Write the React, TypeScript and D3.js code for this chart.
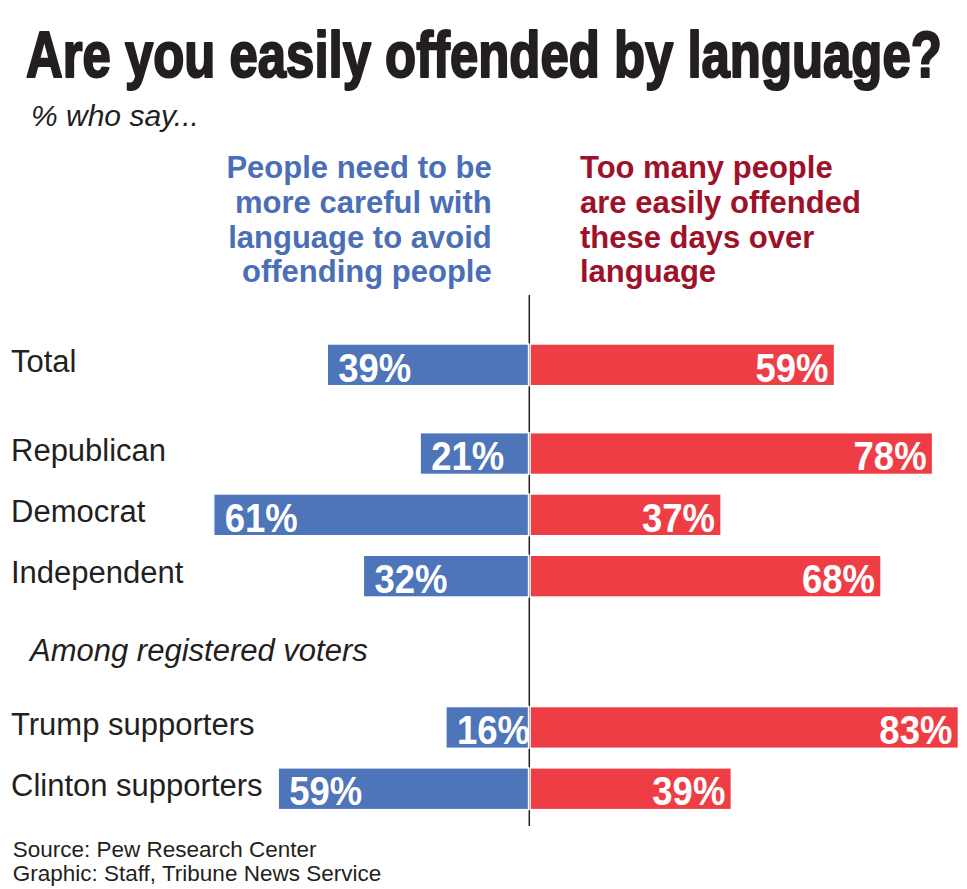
import React from "react";
import * as d3 from "d3";

// ---------- data ----------
const title = "Are you easily offended by language?";
const subtitle = "% who say...";
const categories = [
  "Total",
  "Republican",
  "Democrat",
  "Independent",
  "Trump supporters",
  "Clinton supporters",
];
const categoryGroups = [0, 1, 1, 1, 2, 2];
const groupNote = "Among registered voters";
// "People need to be more careful with language..." (labels)
const carefulValues = [39, 21, 61, 32, 16, 59];
// bar lengths as drawn in the source graphic (Clinton bar is drawn shorter than its label)
const carefulBarValues = [39, 21, 61, 32, 16, 48.5];
// "Too many people are easily offended..."
const offendedValues = [59, 78, 37, 68, 83, 39];
const carefulHeader = [
  "People need to be",
  "more careful with",
  "language to avoid",
  "offending people",
];
const offendedHeader = [
  "Too many people",
  "are easily offended",
  "these days over",
  "language",
];
const sourceLines = [
  "Source: Pew Research Center",
  "Graphic: Staff, Tribune News Service",
];

// ---------- style ----------
const W = 967;
const H = 889;
const FONT = "'Liberation Sans', Arial, Helvetica, sans-serif";
const INK = "#231F20";
const BLUE = "#4E74B9";
const RED = "#EF3D46";
const BLUE_TEXT = "#4A6FB7";
const RED_TEXT = "#9E1129";

export default function App() {
  const centerX = 529.3;
  const x = d3.scaleLinear().domain([0, 100]).range([0, 516]);
  const rowStep = 61.3;
  const groupExtra = [0, 27.4, 117.4];
  const rowIndex = d3.scaleLinear().domain([0, 1]).range([344, 344 + rowStep]);
  const barH = 41.7;
  const rowTop = (i: number) => rowIndex(i) + groupExtra[categoryGroups[i]];

  const headerY = d3.scaleLinear().domain([0, 1]).range([178.3, 212.9]);
  const blueRight = centerX - 0.8;
  const redLeft = centerX + 0.8;
  const valScale = 0.89;
  const titleScale = 0.795;

  return (
    <svg
      width={W}
      height={H}
      style={{ position: "absolute", left: 0, top: 0, background: "#fff" }}
      fontFamily={FONT}
    >
      <rect x={0} y={0} width={W} height={H} fill="#fff" />
      {/* title */}
      <text
        transform={`translate(26,76.7) scale(${titleScale},1)`}
        fontSize={64}
        fontWeight="bold"
        fill={INK}
        stroke={INK}
        strokeWidth={2.2}
        strokeLinejoin="round"
      >
        {title}
      </text>
      <text x={31} y={125.7} fontSize={30} fontStyle="italic" fill={INK}>
        {subtitle}
      </text>

      {/* column headers */}
      {carefulHeader.map((t, i) => (
        <text
          key={"ch" + i}
          x={491.7}
          y={headerY(i)}
          fontSize={31}
          fontWeight="bold"
          fill={BLUE_TEXT}
          textAnchor="end"
        >
          {t}
        </text>
      ))}
      {offendedHeader.map((t, i) => (
        <text
          key={"oh" + i}
          x={580}
          y={headerY(i)}
          fontSize={31}
          fontWeight="bold"
          fill={RED_TEXT}
        >
          {t}
        </text>
      ))}

      {/* center axis */}
      <line x1={centerX} x2={centerX} y1={295} y2={826} stroke={INK} strokeWidth={1.5} />

      {/* group note */}
      <text x={30} y={660.7} fontSize={31} fontStyle="italic" fill={INK}>
        {groupNote}
      </text>

      {categories.map((c, i) => {
        const top = rowTop(i);
        const bw = x(carefulBarValues[i]);
        const rw = x(offendedValues[i]);
        const base = top + 37.5;
        return (
          <g key={c}>
            <text x={11} y={top + 28} fontSize={31} fill={INK}>
              {c}
            </text>
            <rect
              x={blueRight - bw}
              y={top}
              width={bw}
              height={barH}
              fill={BLUE}
              stroke="#fff"
              strokeWidth={1.4}
            />
            <rect
              x={redLeft}
              y={top}
              width={rw}
              height={barH}
              fill={RED}
              stroke="#fff"
              strokeWidth={1.4}
            />
            <text
              transform={`translate(${blueRight - bw + 11},${base}) scale(${valScale},1)`}
              fontSize={41}
              fontWeight="bold"
              fill="#fff"
            >
              {carefulValues[i] + "%"}
            </text>
            <text
              transform={`translate(${redLeft + rw - 6},${base}) scale(${valScale},1)`}
              fontSize={41}
              fontWeight="bold"
              fill="#fff"
              textAnchor="end"
            >
              {offendedValues[i] + "%"}
            </text>
          </g>
        );
      })}

      {/* source */}
      {sourceLines.map((t, i) => (
        <text key={"s" + i} x={12.7} y={856.7 + i * 24.3} fontSize={22.5} fill={INK}>
          {t}
        </text>
      ))}
    </svg>
  );
}
